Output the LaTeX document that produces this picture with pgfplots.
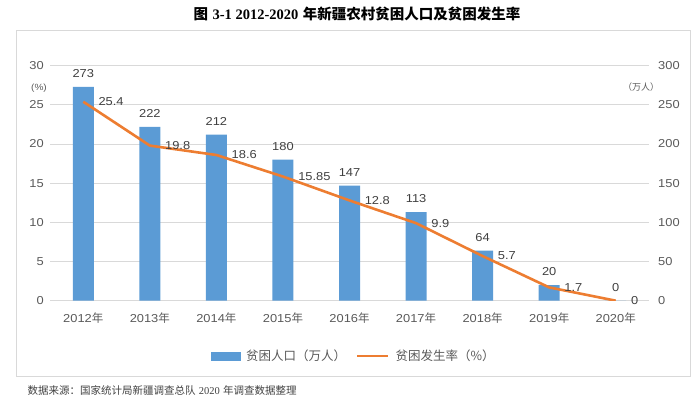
\documentclass[border=0pt]{standalone}
\usepackage{pgfplots}
\pgfplotsset{compat=1.18}
\usepackage{fontspec}
\setmainfont{Liberation Sans}[FakeStretch=1.12]
\newfontfamily\cjk{Noto Sans CJK SC}
\newfontfamily\titlelatin{Liberation Serif}
\definecolor{barblue}{HTML}{5B9BD5}
\definecolor{lineorange}{HTML}{ED7D31}
\definecolor{gridgray}{HTML}{D9D9D9}
\definecolor{ticktext}{HTML}{595959}
\definecolor{labeltext}{HTML}{404040}
\newcommand\nian{{\cjk 年}}
\newcommand\lblfont{\fontsize{11.5bp}{13bp}\selectfont}
\pgfplotstableread{
x pop
0 273
1 222
2 212
3 180
4 147
5 113
6 64
7 20
8 0
}\poptable
\pgfplotstableread{
x rate lab
0 25.4 25.4
1 19.8 19.8
2 18.6 18.6
3 15.85 15.85
4 12.8 12.8
5 9.9 9.9
6 5.7 5.7
7 1.7 1.7
8 0 0
}\ratetable
\begin{document}
\begin{tikzpicture}[x=1bp,y=1bp]
\path[use as bounding box] (0,0) rectangle (698,401);
\draw[gridgray, line width=0.9bp] (16,25) rectangle (690,371);
\node[font=\fontsize{14.5bp}{17bp}\selectfont] at (357,387) {{\cjk\bfseries 图} {\titlelatin\bfseries 3-1 2012-2020} {\cjk\bfseries 年新疆农村贫困人口及贫困发生率}};
\node[anchor=west, text=labeltext, font=\fontsize{10.5bp}{12bp}\selectfont] at (24,11) {{\cjk 数据来源：国家统计局新疆调查总队} {\titlelatin 2020} {\cjk 年调查数据整理}};
\node[text=ticktext, font=\fontsize{9bp}{10bp}\selectfont] at (39,313) {(\%)};
\node[text=ticktext, font=\fontsize{9bp}{10bp}\selectfont] at (641,314) {{\cjk （万人）}};
\begin{axis}[
  at={(50bp,100.3bp)}, anchor=south west, scale only axis,
  width=599bp, height=235bp,
  xmin=-0.5, xmax=8.5, ymin=0, ymax=300,
  /pgf/number format/assume math mode=true,
  ybar, bar width=21bp,
  xtick={0,...,8},
  xticklabels={2012\nian,2013\nian,2014\nian,2015\nian,2016\nian,2017\nian,2018\nian,2019\nian,2020\nian},
  ytick={0,50,...,300}, yticklabel pos=right,
  ymajorgrids, major grid style={gridgray, line width=0.9bp},
  axis line style={draw=none}, major tick length=0pt,
  tick label style={font=\lblfont, text=ticktext},
  yticklabel style={anchor=west, inner sep=0pt, xshift=9bp},
  xticklabel style={anchor=north, inner sep=0pt, yshift=-12bp},
  nodes near coords,
  nodes near coords style={font=\lblfont, text=labeltext, anchor=south, inner sep=0pt, yshift=9bp},
]
\addplot[fill=barblue, draw=none] table[x=x, y=pop] {\poptable};
\end{axis}
\begin{axis}[
  at={(50bp,100.3bp)}, anchor=south west, scale only axis,
  width=599bp, height=235bp,
  xmin=-0.5, xmax=8.5, ymin=0, ymax=30,
  /pgf/number format/assume math mode=true,
  xtick=\empty,
  ytick={0,5,...,30}, yticklabel pos=left,
  axis line style={draw=none}, major tick length=0pt,
  tick label style={font=\lblfont, text=ticktext},
  yticklabel style={anchor=east, inner sep=0pt, xshift=-6bp},
  legend style={at={(0.507,-0.235)}, anchor=center, draw=none, fill=none,
    legend columns=2, font=\fontsize{12.5bp}{14bp}\selectfont, text=ticktext,
    /tikz/every even column/.append style={column sep=8bp},
    inner sep=0pt, cells={anchor=west}},
]
\addlegendimage{legend image code/.code={\fill[barblue] (0bp,-4bp) rectangle (29bp,4bp);}}
\addlegendentry{\hspace{4bp}{\cjk 贫困人口（万人）}}
\addplot[lineorange, line width=2.6bp, line join=round,
  nodes near coords, point meta=explicit symbolic,
  nodes near coords style={font=\lblfont, text=labeltext, anchor=west, inner sep=0pt, xshift=14bp},
  legend image code/.code={\draw[lineorange, line width=2.6bp] (0bp,0bp) -- (31bp,0bp);}]
  table[x=x, y=rate, meta=lab] {\ratetable};
\addlegendentry{\hspace{4bp}{\cjk 贫困发生率（\%）}}
\end{axis}
\end{tikzpicture}
\end{document}
